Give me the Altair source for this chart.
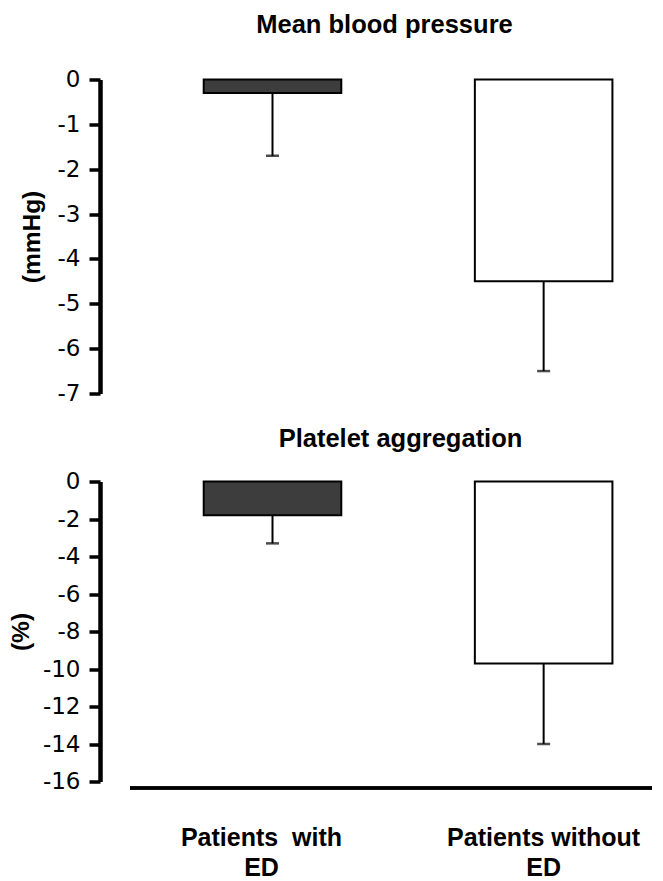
import altair as alt
import pandas as pd

# ---- data ----
categories = ["Patients\u00a0 with|ED", "Patients without|ED"]
bar_fill = ["#3d3d3d", "#ffffff"]

mbp_mean = [-0.3, -4.5]
mbp_low = [-1.7, -6.5]
mbp_ticks = [0, -1, -2, -3, -4, -5, -6, -7]

pa_mean = [-1.8, -9.7]
pa_low = [-3.3, -14.0]
pa_ticks = [0, -2, -4, -6, -8, -10, -12, -14, -16]

W = 547

xscale = alt.Scale(domain=categories, paddingInner=0.4926, paddingOuter=0.255, align=0.75)
fill_scale = alt.Scale(domain=categories, range=bar_fill)


def panel(means, lows, title, ytitle, title_pad, domain, ticks, height, title_offset, title_dx, show_x):
    df = pd.DataFrame({"cat": categories, "mean": means, "low": lows})
    if show_x:
        xaxis = alt.Axis(
            title=None, domain=False, ticks=False, tickSize=0, labelAngle=0,
            labelPadding=44, labelFont="Liberation Sans", labelFontSize=25,
            labelFontWeight="bold", labelColor="black", labelLineHeight=30,
            labelLimit=0, labelOverlap=False,
            labelExpr="split(datum.label, '|')",
            labelOffset={"condition": {"test": "indexof(datum.value, 'without') < 0", "value": -11}, "value": 0},
        )
    else:
        xaxis = None
    x = alt.X("cat:N", scale=xscale, sort=categories, axis=xaxis)
    yaxis = alt.Axis(
        values=ticks, title=ytitle, grid=False, labelOverlap=False,
        domainColor="black", domainWidth=4.5,
        tickColor="black", tickWidth=3.5, tickSize=11,
        labelFont="DejaVu Sans", labelFontSize=23, labelColor="black", labelPadding=9,
        labelExpr="datum.value < 0 ? '-' + abs(datum.value) : '' + datum.value",
        titleFont="Liberation Sans", titleFontSize=24.5, titleFontWeight="bold",
        titleColor="black", titlePadding=title_pad,
    )
    yscale = alt.Scale(domain=domain, nice=False, zero=False)
    base = alt.Chart(df)
    bars = base.mark_bar(stroke="black", strokeWidth=2).encode(
        x=x,
        y=alt.Y("mean:Q", scale=yscale, axis=yaxis),
        fill=alt.Fill("cat:N", scale=fill_scale, legend=None),
    )
    err = base.mark_rule(color="black", strokeWidth=2).encode(
        x=x, y=alt.Y("mean:Q", scale=yscale, axis=yaxis), y2="low:Q"
    )
    cap = base.mark_tick(color="black", size=13, thickness=2.5).encode(
        x=x, y=alt.Y("low:Q", scale=yscale, axis=yaxis)
    )
    layers = [bars, err, cap]
    if show_x:
        baseline = base.mark_rule(color="black", strokeWidth=3.5).encode(
            x=alt.value(30), x2=alt.value(W + 5), y=alt.value(height + 6.5)
        )
        layers.append(baseline)
    return alt.layer(*layers).properties(
        width=W, height=height,
        title=alt.TitleParams(
            title, font="Liberation Sans", fontSize=25.5, fontWeight="bold",
            color="black", anchor="middle", frame="group", offset=title_offset, dx=title_dx,
        ),
    )


top = panel(mbp_mean, mbp_low, "Mean blood pressure", "(mmHg)", 13, [-7, 0], mbp_ticks, 314, 30, 11, False)
bottom = panel(pa_mean, pa_low, "Platelet aggregation", "(%)", 9, [-16, 0], pa_ticks, 300, 18.5, 27, True)

chart = alt.vconcat(top, bottom, spacing=21).properties(
    padding={"left": 0, "top": 4.5, "right": 0, "bottom": 0}
).configure(background="white").configure_view(strokeWidth=0, stroke="transparent")

chart.save("out.html", embed_options={"renderer": "svg", "actions": False})
